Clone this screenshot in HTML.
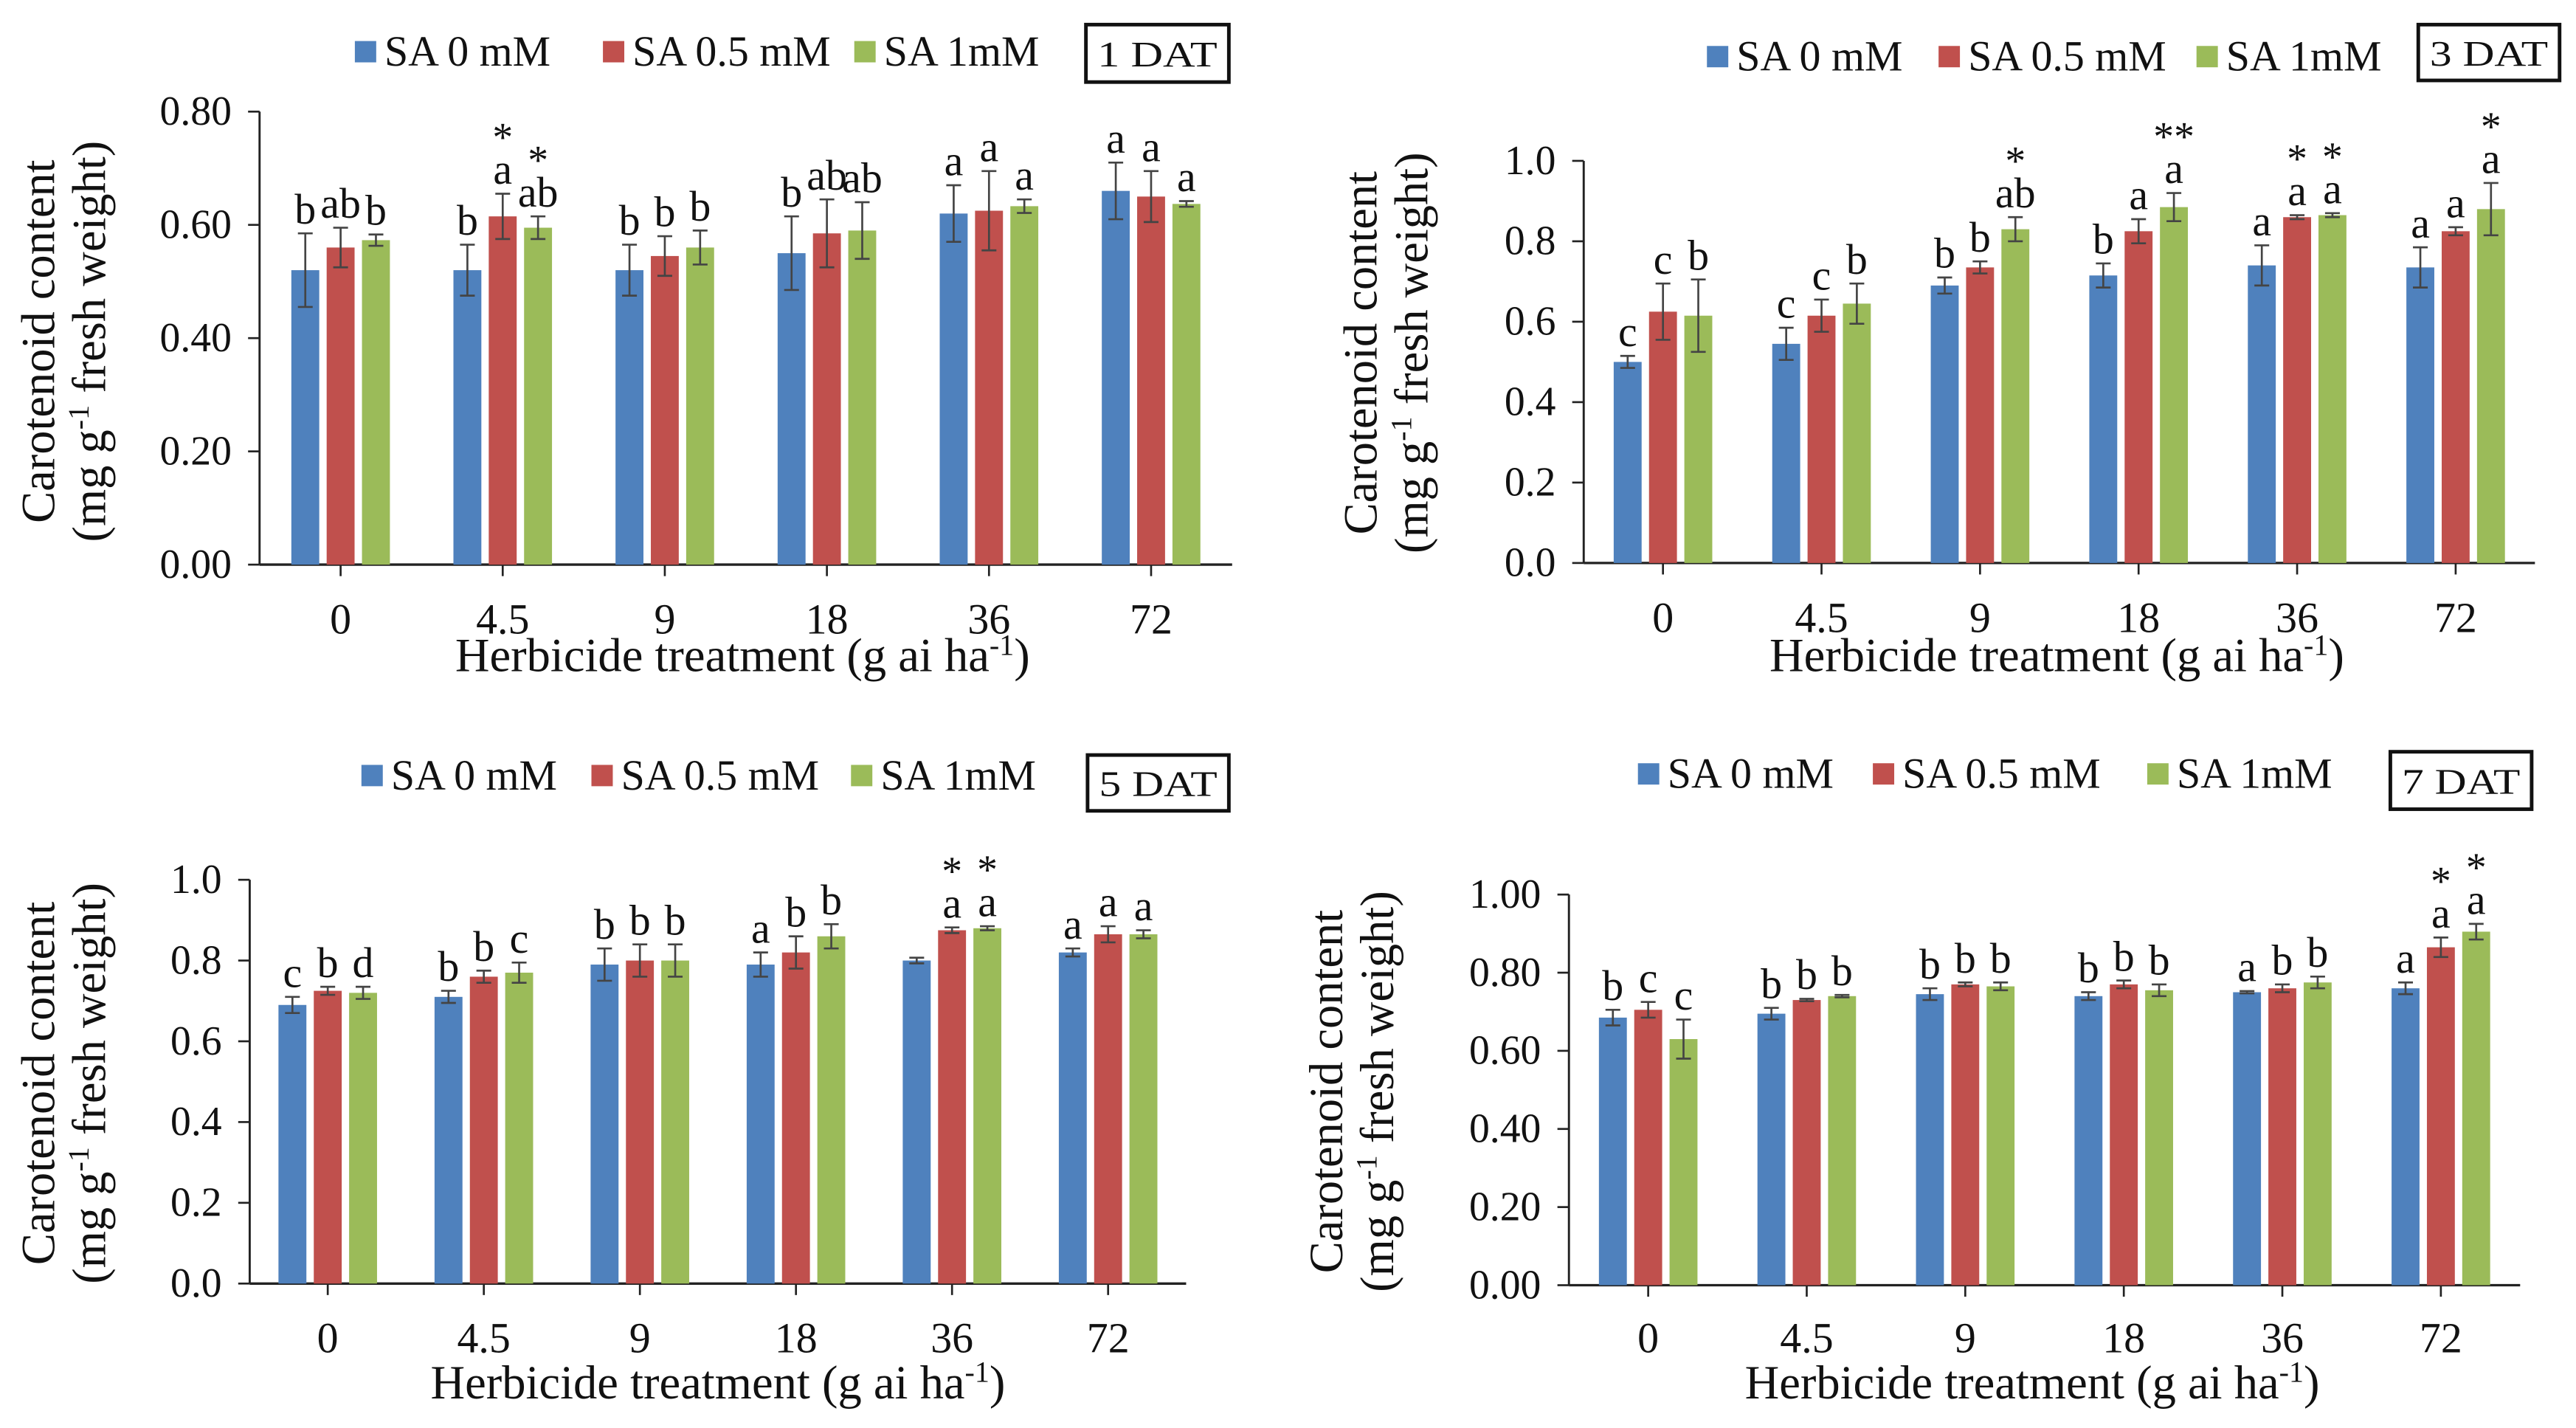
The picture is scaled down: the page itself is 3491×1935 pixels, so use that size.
<!DOCTYPE html>
<html><head><meta charset="utf-8">
<style>
html,body{margin:0;padding:0;background:#fff;}
svg{display:block;}
text{font-family:"Liberation Serif",serif;fill:#111;}
</style></head>
<body>
<svg id="fig" width="3491" height="1935" viewBox="0 0 1568 870" preserveAspectRatio="none" xmlns="http://www.w3.org/2000/svg"></svg>
<script>
const categories = ["0","4.5","9","18","36","72"];
const seriesNames = ["SA 0 mM","SA 0.5 mM","SA 1mM"];
// Panel 1 (1 DAT)
const p1Blue = [0.52,0.52,0.52,0.55,0.62,0.66];
const p1Red = [0.56,0.615,0.545,0.585,0.625,0.65];
const p1Green = [0.573,0.595,0.56,0.59,0.633,0.637];
const p1BlueErr = [0.065,0.045,0.045,0.065,0.05,0.05];
const p1RedErr = [0.035,0.04,0.035,0.06,0.07,0.045];
const p1GreenErr = [0.01,0.02,0.03,0.05,0.012,0.005];
const p1Letters = [["b","ab","b"],["b","a","ab"],["b","b","b"],["b","ab","ab"],["a","a","a"],["a","a","a"]];
const p1Stars = [["","",""],["","*","*"],["","",""],["","",""],["","",""],["","",""]];
const p1Ticks = ["0.00","0.20","0.40","0.60","0.80"];
// Panel 2 (3 DAT)
const p2Blue = [0.50,0.545,0.69,0.715,0.74,0.735];
const p2Red = [0.625,0.615,0.735,0.825,0.86,0.825];
const p2Green = [0.615,0.645,0.83,0.885,0.865,0.88];
const p2BlueErr = [0.015,0.04,0.02,0.03,0.05,0.05];
const p2RedErr = [0.07,0.04,0.015,0.03,0.005,0.01];
const p2GreenErr = [0.09,0.05,0.03,0.035,0.005,0.065];
const p2Letters = [["c","c","b"],["c","c","b"],["b","b","ab"],["b","a","a"],["a","a","a"],["a","a","a"]];
const p2Stars = [["","",""],["","",""],["","","*"],["","","**"],["","*","*"],["","","*"]];
const p2Ticks = ["0.0","0.2","0.4","0.6","0.8","1.0"];
// Panel 3 (5 DAT)
const p3Blue = [0.69,0.71,0.79,0.79,0.80,0.82];
const p3Red = [0.725,0.76,0.80,0.82,0.875,0.865];
const p3Green = [0.72,0.77,0.80,0.86,0.88,0.865];
const p3BlueErr = [0.02,0.015,0.04,0.03,0.007,0.01];
const p3RedErr = [0.01,0.015,0.04,0.04,0.007,0.02];
const p3GreenErr = [0.015,0.025,0.04,0.03,0.005,0.01];
const p3Letters = [["c","b","d"],["b","b","c"],["b","b","b"],["a","b","b"],["","a","a"],["a","a","a"]];
const p3Stars = [["","",""],["","",""],["","",""],["","",""],["","*","*"],["","",""]];
const p3Ticks = ["0.0","0.2","0.4","0.6","0.8","1.0"];
// Panel 4 (7 DAT)
const p4Blue = [0.685,0.695,0.745,0.74,0.75,0.76];
const p4Red = [0.705,0.73,0.77,0.77,0.76,0.865];
const p4Green = [0.63,0.74,0.765,0.755,0.775,0.905];
const p4BlueErr = [0.02,0.015,0.015,0.01,0.003,0.015];
const p4RedErr = [0.02,0.003,0.005,0.01,0.01,0.025];
const p4GreenErr = [0.05,0.003,0.01,0.015,0.015,0.02];
const p4Letters = [["b","c","c"],["b","b","b"],["b","b","b"],["b","b","b"],["a","b","b"],["a","a","a"]];
const p4Stars = [["","",""],["","",""],["","",""],["","",""],["","",""],["","*","*"]];
const p4Ticks = ["0.00","0.20","0.40","0.60","0.80","1.00"];

const colors = ["#4F81BD","#C0504D","#9BBB59"];
const NS = "http://www.w3.org/2000/svg";
const svg = document.getElementById("fig");
function mk(tag, attrs, parent, txt){
  const e = document.createElementNS(NS, tag);
  for (const k in attrs) e.setAttribute(k, attrs[k]);
  if (txt !== undefined) e.textContent = txt;
  (parent||svg).appendChild(e);
  return e;
}
function panel(cfg){
  const g = mk("g", {});
  
  
  const x0 = cfg.x0, x1 = cfg.x1, yTop = cfg.yTop, yBot = cfg.yBot, ymax = cfg.ymax;
  const step = (x1 - x0) / categories.length;
  const xC = i => x0 + step * (i + 0.5);
  const yS = v => yBot - (v / ymax) * (yBot - yTop);
  const ya = mk("line", {x1:x0, y1:yTop, x2:x0, y2:yBot, stroke:"#222", "stroke-width":1.3}, g);
  
  
  cfg.ticks.forEach((t, i) => {
    const v = ymax * i / (cfg.ticks.length - 1);
    mk("line", {x1:x0-7, y1:yS(v), x2:x0, y2:yS(v), stroke:"#222", "stroke-width":1.2}, g);
    const tl = mk("text", {x:x0-17, y:yS(v)+8, "text-anchor":"end", "font-size":25}, g, t);
    
    
  });
  const xa = mk("line", {x1:x0, y1:yBot, x2:x1, y2:yBot, stroke:"#222", "stroke-width":1.5}, g);
  
  
  const series = [cfg.blue, cfg.red, cfg.green];
  const errs = [cfg.blueErr, cfg.redErr, cfg.greenErr];
  const bw = 17, off = 21.5;
  categories.forEach((c, i) => {
    const cx = xC(i);
    mk("line", {x1:cx, y1:yBot, x2:cx, y2:yBot+7, stroke:"#222", "stroke-width":1.2}, g);
    const cl = mk("text", {x:cx, y:cfg.catY, "text-anchor":"middle", "font-size":26}, g, c);
    
    
    for (let s = 0; s < 3; s++){
      const v = series[s][i], e = errs[s][i];
      const bx = cx + (s - 1) * off;
      const r = mk("rect", {x:bx - bw/2, y:yS(v), width:bw, height:yBot - yS(v), fill:colors[s]}, g);
      
      
      const eT = yS(v + e), eB = yS(v - e);
      mk("line", {x1:bx, y1:eT, x2:bx, y2:eB, stroke:"#444", "stroke-width":1.2}, g);
      mk("line", {x1:bx-4.5, y1:eT, x2:bx+4.5, y2:eT, stroke:"#444", "stroke-width":1.2}, g);
      mk("line", {x1:bx-4.5, y1:eB, x2:bx+4.5, y2:eB, stroke:"#444", "stroke-width":1.2}, g);
      const lt = cfg.letters[i][s];
      if (lt){
        const lb = mk("text", {x:bx, y:eT - 6, "text-anchor":"middle", "font-size":26}, g, lt);
        
        
      }
      const st = cfg.stars[i][s];
      if (st){
        const sb = mk("text", {x:bx, y:eT - 26, "text-anchor":"middle", "font-size":25}, g, st);
        
        
      }
    }
  });
  const yt = mk("text", {transform:`translate(${cfg.ytx},${cfg.yty}) rotate(-90)`, "text-anchor":"middle", "font-size":29}, g);
  
  
  mk("tspan", {x:0, y:0}, yt, "Carotenoid content");
  mk("tspan", {x:0, dy:31}, yt, "(mg g");
  mk("tspan", {dy:-10, "font-size":18}, yt, "-1");
  mk("tspan", {dy:10}, yt, " fresh weight)");
  const xt = mk("text", {x:cfg.xtx, y:cfg.xty, "text-anchor":"middle", "font-size":29}, g);
  
  
  mk("tspan", {}, xt, "Herbicide treatment (g ai ha");
  mk("tspan", {dy:-10, "font-size":18}, xt, "-1");
  mk("tspan", {dy:10}, xt, ")");
  cfg.leg.forEach((lx, s) => {
    const le = mk("g", {}, g);
    
    
    mk("rect", {x:lx, y:cfg.legY-7, width:13, height:13, fill:colors[s]}, le);
    mk("text", {x:lx+18, y:cfg.legY+8, "font-size":26}, le, seriesNames[s]);
  });
  const b = cfg.box;
  const bx = mk("g", {}, g);
  
  
  mk("rect", {x:b[0], y:b[1], width:b[2], height:b[3], fill:"none", stroke:"#111", "stroke-width":2.2}, bx);
  mk("text", {x:b[0]+b[2]/2, y:b[1]+b[3]/2+8, "text-anchor":"middle", "font-size":22, "textLength":b[2]-14, "lengthAdjust":"spacingAndGlyphs"}, bx, cfg.dat);
}
panel({name:"panel-1-dat", x0:158, x1:750, yTop:68, yBot:344, ymax:0.8, ticks:p1Ticks,
  blue:p1Blue, red:p1Red, green:p1Green, blueErr:p1BlueErr, redErr:p1RedErr, greenErr:p1GreenErr,
  letters:p1Letters, stars:p1Stars, catY:386, ytx:33, yty:208, xtx:452, xty:409,
  leg:[216,367,520], legY:32, box:[661,15,87,35], dat:"1 DAT"});
panel({name:"panel-3-dat", x0:964, x1:1543, yTop:98, yBot:343, ymax:1.0, ticks:p2Ticks,
  blue:p2Blue, red:p2Red, green:p2Green, blueErr:p2BlueErr, redErr:p2RedErr, greenErr:p2GreenErr,
  letters:p2Letters, stars:p2Stars, catY:385, ytx:838, yty:215, xtx:1252, xty:409,
  leg:[1039,1180,1337], legY:35, box:[1472,15,86,34], dat:"3 DAT"});
panel({name:"panel-5-dat", x0:152, x1:722, yTop:536, yBot:782, ymax:1.0, ticks:p3Ticks,
  blue:p3Blue, red:p3Red, green:p3Green, blueErr:p3BlueErr, redErr:p3RedErr, greenErr:p3GreenErr,
  letters:p3Letters, stars:p3Stars, catY:824, ytx:33, yty:660, xtx:437, xty:852,
  leg:[220,360,518], legY:473, box:[662,460,86,34], dat:"5 DAT"});
panel({name:"panel-7-dat", x0:955, x1:1534, yTop:545, yBot:783, ymax:1.0, ticks:p4Ticks,
  blue:p4Blue, red:p4Red, green:p4Green, blueErr:p4BlueErr, redErr:p4RedErr, greenErr:p4GreenErr,
  letters:p4Letters, stars:p4Stars, catY:824, ytx:817, yty:665, xtx:1237, xty:852,
  leg:[997,1140,1307], legY:472, box:[1455,458,86,35], dat:"7 DAT"});
</script>
</body></html>
